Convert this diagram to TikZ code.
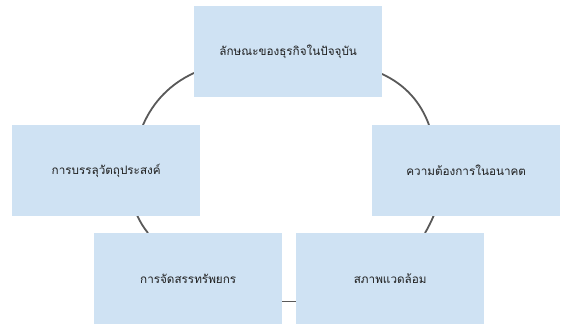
\documentclass[tikz,border=0pt]{standalone}
\usepackage{fontspec}
\newfontfamily\thaifont[Script=Thai]{Loma}
\definecolor{boxfill}{HTML}{CFE2F3}
\definecolor{linegray}{HTML}{595959}
\definecolor{txt}{HTML}{1F1F1F}
\begin{document}
\begin{tikzpicture}[x=1pt,y=-1pt,
  cbox/.style={fill=boxfill,draw=none,minimum width=188pt,minimum height=91pt,inner sep=0pt,
    font=\thaifont\fontsize{11.7}{14}\selectfont,text=txt,anchor=north west},
  conn/.style={draw=linegray,line width=1.8pt}]
\useasboundingbox (0,0) rectangle (565,326);
% connectors (drawn first, behind boxes)
\coordinate (a1) at (194,73);
\coordinate (a2) at (143,125);
\coordinate (b1) at (382,74);
\coordinate (b2) at (429,125);
\coordinate (c1) at (137,215);
\coordinate (c2) at (148,233);
\coordinate (d1) at (281,301.5);
\coordinate (d2) at (296,301.5);
\coordinate (e1) at (434,215);
\coordinate (e2) at (425,233);
\draw[conn] (a1) .. controls (170,84) and (153,102) .. (a2);
\draw[conn] (b1) .. controls (406,85) and (421,103) .. (b2);
\draw[conn] (c1) .. controls (140,222) and (144,228) .. (c2);
\draw[conn] (d1) -- (d2);
\draw[conn] (e1) .. controls (431,222) and (428,228) .. (e2);
% boxes
\node[cbox] (top) at (194,6) {ลักษณะของธุรกิจในปัจจุบัน};
\node[cbox] (left) at (12,125) {การบรรลุวัตถุประสงค์};
\node[cbox] (right) at (372,125) {ความต้องการในอนาคต};
\node[cbox] (bl) at (94,233) {การจัดสรรทรัพยกร};
\node[cbox] (br) at (296,233) {สภาพแวดล้อม};
\end{tikzpicture}
\end{document}
